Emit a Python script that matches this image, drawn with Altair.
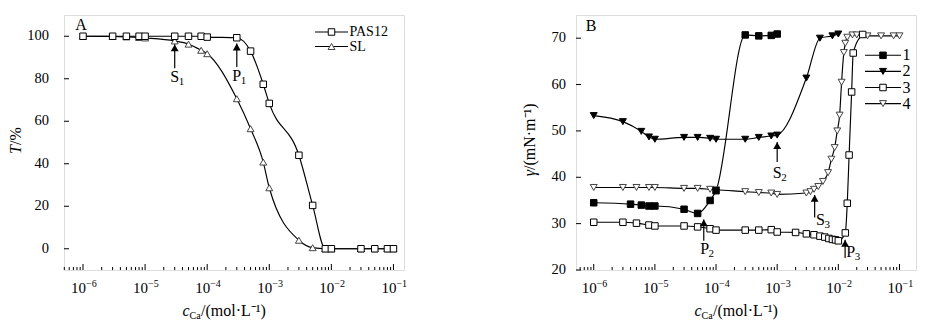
import math
import altair as alt
import pandas as pd

FONT = "Liberation Serif"
W, H = 340, 255

# ---------------- Panel A data ----------------
a_conc = [1e-6, 3e-6, 5e-6, 8e-6, 1e-5, 3e-5, 5e-5, 8e-5, 1e-4, 3e-4, 5e-4,
          8e-4, 1e-3, 3e-3, 5e-3, 8e-3, 1e-2, 3e-2, 5e-2, 8e-2, 1e-1]
a_pas12 = [100, 100, 100, 100, 100, 100, 100, 100, 99.6, 99.3, 93.0,
           77.4, 68.4, 44.0, 20.4, 0, 0, 0, 0, 0, 0]
a_sl = [100, 99.9, 99.7, 99.4, 99.2, 97.8, 96.3, 93.4, 91.8, 70.6, 56.5,
        40.8, 28.7, 4.0, 0.5, 0, 0, 0, 0, 0, 0]
a_names = ["PAS12", "SL"]
a_yticks = [0, 20, 40, 60, 80, 100]
a_ann_main = ["S", "P"]
a_ann_sub = ["1", "1"]
a_ann_x = [3e-5, 3e-4]
a_ann_tip = [96.2, 96.6]
a_ann_tail = [85.0, 85.5]
a_ann_lx = [3e-5, 3e-4]
a_ann_ly = [80.8, 81.2]

# ---------------- Panel B data ----------------
b1_x = [1e-6, 4e-6, 6e-6, 8e-6, 1e-5, 3e-5, 5e-5, 8e-5, 1e-4, 3e-4, 5e-4, 8e-4, 1e-3]
b1_y = [34.5, 34.2, 34.0, 33.8, 33.8, 33.1, 32.2, 35.0, 37.1, 70.7, 70.5, 70.6, 70.9]
b2_x = [1e-6, 3e-6, 6e-6, 8e-6, 1e-5, 3e-5, 5e-5, 8e-5, 1e-4, 3e-4, 5e-4, 8e-4,
        1e-3, 3e-3, 5e-3, 8e-3, 1e-2]
b2_y = [53.3, 52.0, 49.9, 48.7, 48.2, 48.6, 48.6, 48.4, 48.2, 48.2, 48.6, 48.9,
        49.1, 61.4, 70.0, 70.5, 70.9]
b3_x = [1e-6, 3e-6, 5e-6, 8e-6, 1e-5, 3e-5, 5e-5, 8e-5, 1e-4, 3e-4, 5e-4, 8e-4,
        1e-3, 2e-3, 3e-3, 4e-3, 5e-3, 6e-3, 7e-3, 8e-3, 9e-3, 1e-2, 1.3e-2,
        1.4e-2, 1.5e-2, 1.65e-2, 1.75e-2, 2.5e-2]
b3_y = [30.3, 30.3, 30.1, 29.7, 29.5, 29.5, 29.3, 28.9, 28.6, 28.6, 28.6, 28.7,
        28.2, 28.1, 27.8, 27.6, 27.3, 27.1, 26.8, 26.6, 26.5, 26.3, 28.0,
        34.4, 44.8, 58.4, 66.8, 70.8]
b4_x = [1e-6, 3e-6, 5e-6, 8e-6, 1e-5, 3e-5, 5e-5, 8e-5, 1e-4, 3e-4, 5e-4, 8e-4,
        1e-3, 3e-3, 3.5e-3, 4e-3, 4.7e-3, 5.6e-3, 6.8e-3, 7.7e-3, 8.7e-3, 9.6e-3,
        1.05e-2, 1.13e-2, 1.23e-2, 1.3e-2, 1.4e-2, 1.7e-2, 2e-2, 3e-2, 5e-2, 8e-2, 1e-1]
b4_y = [37.8, 37.8, 37.8, 37.8, 37.8, 37.6, 37.6, 37.4, 37.3, 36.9, 36.7, 36.6,
        36.3, 36.6, 36.9, 37.4, 38.0, 39.1, 41.0, 43.9, 46.4, 50.0,
        53.4, 60.5, 66.9, 68.9, 70.2, 70.7, 70.7, 70.5, 70.5, 70.5, 70.5]
b_names = ["1", "2", "3", "4"]
b_yticks = [20, 30, 40, 50, 60, 70]
b_ann_main = ["S", "P", "S", "P"]
b_ann_sub = ["2", "2", "3", "3"]
b_ann_x = [1e-3, 6.3e-5, 4.1e-3, 1.29e-2]
b_ann_tip = [47.6, 30.9, 36.2, 26.5]
b_ann_tail = [43.3, 26.3, 31.3, 22.6]
b_ann_lx = [1e-3, 6.5e-5, 5.1e-3, 1.6e-2]
b_ann_ly = [41.0, 24.6, 30.8, 23.9]


def build(series_x, series_y, names, shapes, fills, strokes, sizes, draw_order,
          xdom, ydom, yticks, ylab_pad, ann, letter, letter_xy,
          ytitle_main, ytitle_rest, ytitle_x, ytitle_anchor, leg, leg_font):
    xsc = alt.Scale(type="log", domain=xdom, nice=False)
    ysc = alt.Scale(domain=ydom, nice=False, zero=False)

    def X(f):
        return alt.X(f, type="quantitative", scale=xsc, axis=None)

    def Y(f):
        return alt.Y(f, type="quantitative", scale=ysc, axis=None)

    rows = []
    for n, xs, ys in zip(names, series_x, series_y):
        for a, b in zip(xs, ys):
            rows.append({"series": n, "c": a, "v": b})
    df = pd.DataFrame(rows)
    one = pd.DataFrame({"k": [0]})

    layers = []
    # axis ticks (inward)
    lo, hi = math.log10(xdom[0]), math.log10(xdom[1])
    majors = [10.0 ** k for k in range(-7, 1) if lo < k < hi]
    minors = [m * 10.0 ** k for k in range(-7, 0) for m in range(2, 10)
              if lo + 0.004 < math.log10(m * 10.0 ** k) < hi - 0.004]
    layers.append(alt.Chart(pd.DataFrame({"t": majors})).mark_rule(color="black", strokeWidth=1).encode(
        x=X("t"), y=alt.value(H), y2=alt.value(H - 6)))
    layers.append(alt.Chart(pd.DataFrame({"t": minors})).mark_rule(color="black", strokeWidth=1).encode(
        x=X("t"), y=alt.value(H), y2=alt.value(H - 3)))
    ydf = pd.DataFrame({"t": yticks, "lab": [str(v) for v in yticks]})
    layers.append(alt.Chart(ydf).mark_rule(color="black", strokeWidth=1).encode(
        y=Y("t"), x=alt.value(0), x2=alt.value(5)))
    layers.append(alt.Chart(ydf).mark_text(font=FONT, fontSize=14.5, align="right", baseline="middle",
                                           color="black").encode(
        y=Y("t"), x=alt.value(-ylab_pad), text="lab:N"))
    # x tick labels 10^k
    xl = pd.DataFrame({"t": majors, "b": ["10"] * len(majors),
                       "e": ["\u2212%d" % -int(round(math.log10(t))) for t in majors]})
    layers.append(alt.Chart(xl).mark_text(font=FONT, fontSize=15, align="right", baseline="middle", dx=3, color="black").encode(
        x=X("t"), y=alt.value(H + 18), text="b:N"))
    layers.append(alt.Chart(xl).mark_text(font=FONT, fontSize=10, align="left", baseline="middle", dx=3, dy=-4, color="black").encode(
        x=X("t"), y=alt.value(H + 18), text="e:N"))

    # curves
    layers.append(alt.Chart(df).mark_line(interpolate="monotone", color="black", strokeWidth=1.15).encode(
        x=X("c"), y=Y("v"), detail="series:N"))
    for i in draw_order:
        layers.append(alt.Chart(df[df.series == names[i]]).mark_point(
            shape=shapes[i], filled=True, fill=fills[i], stroke=strokes[i], strokeWidth=1,
            size=sizes[i], opacity=1).encode(x=X("c"), y=Y("v")))

    # annotations
    main, sub, ax, tip, tail, lx, ly = ann
    adf = pd.DataFrame({"x": ax, "tip": tip, "tail": tail, "lx": lx, "ly": ly, "m": main, "s": sub})
    layers.append(alt.Chart(adf).mark_rule(color="black", strokeWidth=1.2).encode(
        x=X("x"), y=Y("tip"), y2=alt.Y2("tail")))
    layers.append(alt.Chart(adf).mark_point(shape="triangle-up", filled=True, color="black", size=62,
                                            opacity=1, yOffset=3.5).encode(x=X("x"), y=Y("tip")))
    layers.append(alt.Chart(adf).mark_text(font=FONT, fontSize=16, align="center", baseline="middle", color="black").encode(
        x=X("lx"), y=Y("ly"), text="m:N"))
    layers.append(alt.Chart(adf).mark_text(font=FONT, fontSize=11, align="left", baseline="middle", dx=4, dy=5, color="black").encode(
        x=X("lx"), y=Y("ly"), text="s:N"))

    # panel letter
    layers.append(alt.Chart(one).mark_text(font=FONT, fontSize=16, align="center", baseline="middle", color="black",
                                           text=letter).encode(x=alt.value(letter_xy[0]), y=alt.value(letter_xy[1])))

    # x title: c_Ca/(mol·L-1)
    ax0 = 125.5
    layers.append(alt.Chart(one).mark_text(font=FONT, fontSize=16, fontStyle="italic", align="right", baseline="middle",
                                           color="black", text="c").encode(x=alt.value(ax0), y=alt.value(H + 41)))
    layers.append(alt.Chart(one).mark_text(font=FONT, fontSize=10, align="left", baseline="middle", dy=5,
                                           color="black", text="Ca").encode(x=alt.value(ax0), y=alt.value(H + 41)))
    layers.append(alt.Chart(one).mark_text(font=FONT, fontSize=16, align="left", baseline="middle",
                                           color="black", text="/(mol\u00b7L\u207b\u00b9)").encode(
        x=alt.value(ax0 + 11.5), y=alt.value(H + 41)))

    # y title
    layers.append(alt.Chart(one).mark_text(font=FONT, fontSize=16, fontStyle="italic", align="right", baseline="middle",
                                           angle=270, color="black", text=ytitle_main).encode(
        x=alt.value(ytitle_x), y=alt.value(ytitle_anchor)))
    layers.append(alt.Chart(one).mark_text(font=FONT, fontSize=16, align="left", baseline="middle",
                                           angle=270, color="black", text=ytitle_rest).encode(
        x=alt.value(ytitle_x), y=alt.value(ytitle_anchor)))

    # legend (manual)
    lx0, lx1, ly0, ldy = leg
    for i, n in enumerate(names):
        yy = ly0 + i * ldy
        layers.append(alt.Chart(one).mark_rule(color="black", strokeWidth=1.1).encode(
            x=alt.value(lx0), x2=alt.value(lx1), y=alt.value(yy)))
        layers.append(alt.Chart(one).mark_point(shape=shapes[i], filled=True, fill=fills[i], stroke=strokes[i],
                                                strokeWidth=1, size=sizes[i], opacity=1).encode(
            x=alt.value((lx0 + lx1) / 2), y=alt.value(yy)))
        layers.append(alt.Chart(one).mark_text(font=FONT, fontSize=leg_font, align="left", baseline="middle",
                                               color="black", text=n).encode(
            x=alt.value(lx1 + 1.5), y=alt.value(yy)))

    return alt.layer(*layers).properties(width=W, height=H)


panel_a = build(
    [a_conc, a_conc], [a_pas12, a_sl], a_names,
    ["square", "triangle-up"], ["white", "white"], ["black", "#444444"], [42, 48], [1, 0],
    [10 ** -6.306, 10 ** -0.83], [-10, 110], a_yticks, 15,
    (a_ann_main, a_ann_sub, a_ann_x, a_ann_tip, a_ann_tail, a_ann_lx, a_ann_ly),
    "A", (17, 10), "T", "/%", -48, 130,
    (251, 284, 17, 14.5), 14)

panel_b = build(
    [b1_x, b2_x, b3_x, b4_x], [b1_y, b2_y, b3_y, b4_y], b_names,
    ["square", "triangle-down", "square", "triangle-down"],
    ["black", "black", "white", "white"], ["black", "black", "black", "#444444"],
    [42, 48, 42, 48], [3, 2, 1, 0],
    [10 ** -6.29, 10 ** -0.73], [20, 75], b_yticks, 10,
    (b_ann_main, b_ann_sub, b_ann_x, b_ann_tip, b_ann_tail, b_ann_lx, b_ann_ly),
    "B", (15, 11), "\u03b3", "/(mN\u00b7m\u207b\u00b9)", -46, 155,
    (289, 325, 40.3, 16.1), 16)

chart = alt.hconcat(panel_a, panel_b, spacing=172, bounds="flush").resolve_scale(
    x="independent", y="independent"
).configure_view(stroke="black", strokeWidth=1.3).configure(background="white").properties(
    padding={"left": 7, "top": 14, "right": 5, "bottom": 5}
)

chart.save("out.html", embed_options={"renderer": "svg", "actions": False})
